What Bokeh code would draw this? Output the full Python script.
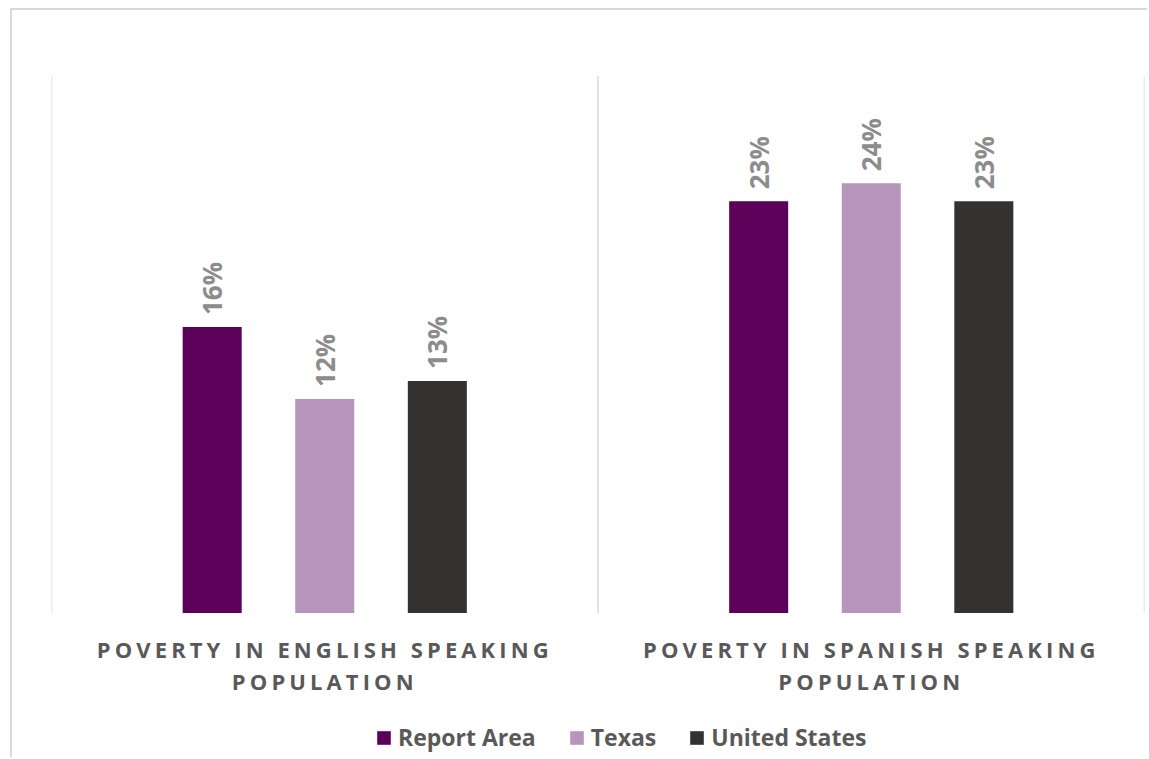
import math
from bokeh.plotting import figure
from bokeh.layouts import column
from bokeh.models import FactorRange, Range1d, Span, Legend, LegendItem, ColumnDataSource
from bokeh.transform import dodge
from bokeh.core.properties import value
from bokeh.embed import file_html
from bokeh.resources import INLINE

category_lines = [["POVERTY IN ENGLISH SPEAKING", "POPULATION"],
                  ["POVERTY IN SPANISH SPEAKING", "POPULATION"]]
categories = [" ".join(lines) for lines in category_lines]
series = ["Report Area", "Texas", "United States"]
report_area = [0.16, 0.23]
texas = [0.12, 0.24]
united_states = [0.13, 0.23]
colors = ["#5c0059", "#b794bb", "#343230"]

src = ColumnDataSource(dict(
    cat=categories,
    report_area=report_area,
    texas=texas,
    united_states=united_states,
    l_ra=[f"{v*100:.0f}%" for v in report_area],
    l_tx=[f"{v*100:.0f}%" for v in texas],
    l_us=[f"{v*100:.0f}%" for v in united_states],
))

BORDER = "2px solid #d9d9d9"
LETTER_SPACING = 4.1
xr = FactorRange(*categories, range_padding=0)

# --- main chart ---
p = figure(width=1137, height=605, x_range=xr,
           y_range=Range1d(-0.000557, 0.30), output_backend="svg", toolbar_location=None,
           x_axis_location=None, y_axis_location=None, min_border_left=39, min_border_right=5,
           min_border_top=65, min_border_bottom=0)
p.margin = (8, 0, 0, 10)
p.styles = {"border-left": BORDER, "border-top": BORDER}
p.outline_line_color = None
p.xgrid.grid_line_color = None
p.ygrid.grid_line_color = None

for loc in [0, 1, 2]:
    p.add_layout(Span(location=loc, dimension="height", line_color="#d9d9d9", line_width=1.5))
p.add_layout(Span(location=0, dimension="width", line_color="#d9d9d9", line_width=1.5))

offsets = [-0.206, 0.0, 0.206]
fields = ["report_area", "texas", "united_states"]
labels = ["l_ra", "l_tx", "l_us"]
for off, f, lab, c in zip(offsets, fields, labels, colors):
    p.vbar(x=dodge("cat", off, range=xr), top=f, width=0.108, source=src,
           fill_color=c, line_color=None)
    p.text(x=dodge("cat", off, range=xr), y=f, text=lab, source=src, angle=math.pi / 2,
           text_align="left", text_baseline="middle", y_offset=-12,
           text_font=value("Open Sans"), text_font_style="bold", text_font_size="26px",
           text_color="#8c8c8c")

# --- category labels (letter-spaced) ---
lab_cat, lab_text, lab_dx, lab_dy = [], [], [], []
for cat, lines in zip(categories, category_lines):
    for i, line in enumerate(lines):
        lab_cat.append(cat)
        lab_text.append(line)
        lab_dx.append(-len(line) * LETTER_SPACING / 2)
        lab_dy.append(20 + 32 * i)
lab_src = ColumnDataSource(dict(cat=lab_cat, text=lab_text, dx=lab_dx, dy=lab_dy))

p2 = figure(width=1137, height=90, x_range=xr, y_range=Range1d(0, 1),
            output_backend="svg", toolbar_location=None,
            x_axis_location=None, y_axis_location=None, min_border_left=39, min_border_right=5,
            min_border_top=0, min_border_bottom=0)
p2.margin = (0, 0, 0, 10)
p2.styles = {"border-left": BORDER, "letter-spacing": f"{LETTER_SPACING}px"}
p2.outline_line_color = None
p2.xgrid.grid_line_color = None
p2.ygrid.grid_line_color = None
p2.text(x="cat", y=1, text="text", source=lab_src, text_align="center", text_baseline="top",
        x_offset="dx", y_offset="dy", text_font=value("Open Sans"), text_font_style="bold",
        text_font_size="22px", text_color="#595959")

# --- legend ---
p3 = figure(width=1137, height=54, x_range=xr, y_range=Range1d(10, 11),
            output_backend="svg", toolbar_location=None,
            x_axis_location=None, y_axis_location=None, min_border=0)
p3.margin = (0, 0, 0, 10)
p3.styles = {"border-left": BORDER}
p3.outline_line_color = None
p3.xgrid.grid_line_color = None
p3.ygrid.grid_line_color = None
proxies = [p3.vbar(x=dodge("cat", off, range=xr), top=f, width=0.108, source=src,
                   fill_color=c, line_color=None)
           for off, f, c in zip(offsets, fields, colors)]
legend = Legend(items=[LegendItem(label=s, renderers=[r]) for s, r in zip(series, proxies)],
                orientation="horizontal", location=(324, 4),
                glyph_width=17, glyph_height=17, label_standoff=6, spacing=32,
                padding=0, margin=0, border_line_color=None, background_fill_alpha=0,
                label_text_font="Open Sans", label_text_font_style="bold",
                label_text_font_size="23px", label_text_color="#595959")
p3.add_layout(legend, "center")

layout = column(p, p2, p3, spacing=0)
open("out.html", "w").write(file_html(layout, INLINE))
